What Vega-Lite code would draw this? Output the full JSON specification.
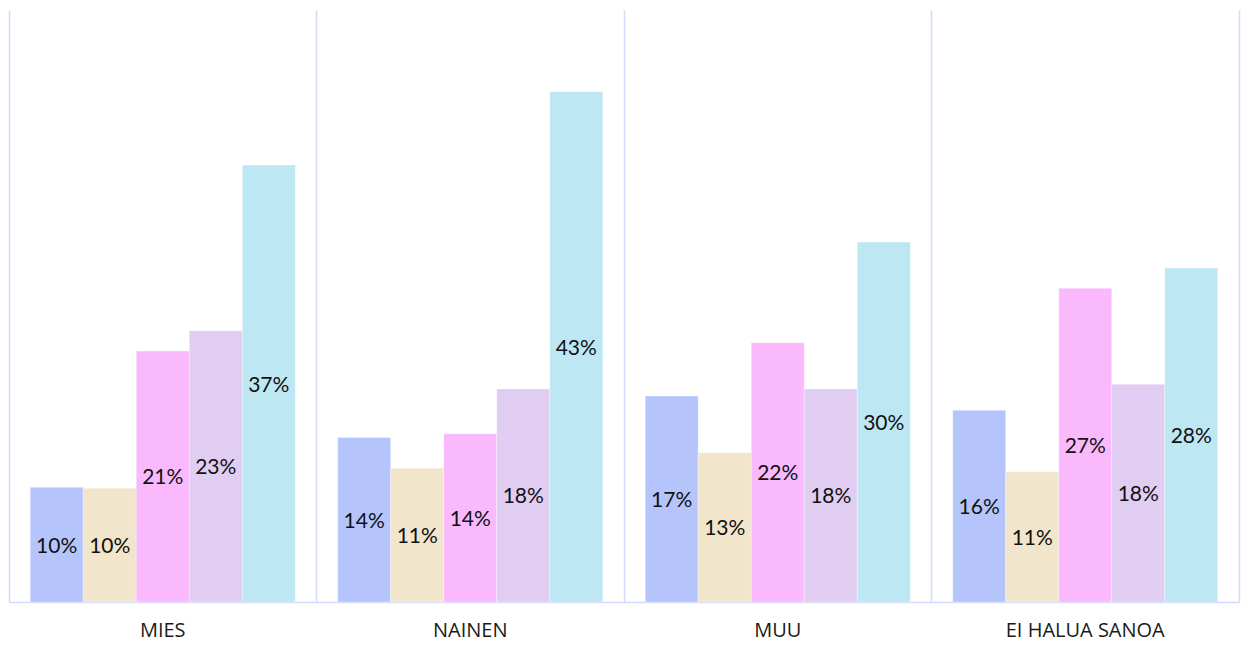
{
  "$schema": "https://vega.github.io/schema/vega-lite/v6.json",
  "width": 1230,
  "height": 592,
  "autosize": {"type": "none"},
  "padding": {"left": 9, "top": 10, "right": 2, "bottom": 43},
  "config": {"view": {"stroke": null}, "font": "Lato"},
  "data": {
    "values": [
      {"group": "MIES", "series": "A", "value": 0.097},
      {"group": "MIES", "series": "B", "value": 0.096},
      {"group": "MIES", "series": "C", "value": 0.212},
      {"group": "MIES", "series": "D", "value": 0.229},
      {"group": "MIES", "series": "E", "value": 0.369},
      {"group": "NAINEN", "series": "A", "value": 0.139},
      {"group": "NAINEN", "series": "B", "value": 0.113},
      {"group": "NAINEN", "series": "C", "value": 0.142},
      {"group": "NAINEN", "series": "D", "value": 0.180},
      {"group": "NAINEN", "series": "E", "value": 0.431},
      {"group": "MUU", "series": "A", "value": 0.174},
      {"group": "MUU", "series": "B", "value": 0.126},
      {"group": "MUU", "series": "C", "value": 0.219},
      {"group": "MUU", "series": "D", "value": 0.180},
      {"group": "MUU", "series": "E", "value": 0.304},
      {"group": "EI HALUA SANOA", "series": "A", "value": 0.162},
      {"group": "EI HALUA SANOA", "series": "B", "value": 0.110},
      {"group": "EI HALUA SANOA", "series": "C", "value": 0.265},
      {"group": "EI HALUA SANOA", "series": "D", "value": 0.184},
      {"group": "EI HALUA SANOA", "series": "E", "value": 0.282}
    ]
  },
  "encoding": {
    "x": {
      "field": "group",
      "type": "nominal",
      "sort": ["MIES", "NAINEN", "MUU", "EI HALUA SANOA"],
      "scale": {"paddingInner": 0, "paddingOuter": 0},
      "axis": {
        "title": null,
        "bandPosition": 0,
        "grid": true,
        "gridColor": "#d3dafb",
        "gridWidth": 1.5,
        "ticks": false,
        "domainColor": "#d3dafb",
        "domainWidth": 1.5,
        "labelFontSize": 20,
        "labelFont": "Open Sans",
        "labelPadding": 18,
        "labelColor": "#1a1a1a",
        "labelAngle": 0
      }
    },
    "xOffset": {
      "field": "series",
      "type": "nominal",
      "sort": ["A", "B", "C", "D", "E"],
      "scale": {"paddingInner": 0, "paddingOuter": 0.4}
    }
  },
  "layer": [
    {
      "mark": {"type": "bar", "stroke": "#ffffff", "strokeWidth": 0.6, "strokeOpacity": 0.6},
      "encoding": {
        "y": {
          "field": "value",
          "type": "quantitative",
          "scale": {"domain": [0, 0.5]},
          "axis": {
            "orient": "right",
            "labels": false,
            "ticks": false,
            "grid": false,
            "title": null,
            "domainColor": "#d3dafb",
            "domainWidth": 1.5
          }
        },
        "color": {
          "field": "series",
          "type": "nominal",
          "scale": {
            "domain": ["A", "B", "C", "D", "E"],
            "range": ["#b5c5fc", "#f1e5cb", "#f9b9fc", "#e0cdf1", "#bde7f3"]
          },
          "legend": null
        }
      }
    },
    {
      "transform": [{"calculate": "datum.value / 2", "as": "mid"}],
      "mark": {"type": "text", "fontSize": 21, "color": "#111111", "baseline": "middle", "font": "Lato", "dy": 2},
      "encoding": {
        "y": {"field": "mid", "type": "quantitative", "scale": {"domain": [0, 0.5]}},
        "text": {"field": "value", "type": "quantitative", "format": ".0%"}
      }
    }
  ]
}
